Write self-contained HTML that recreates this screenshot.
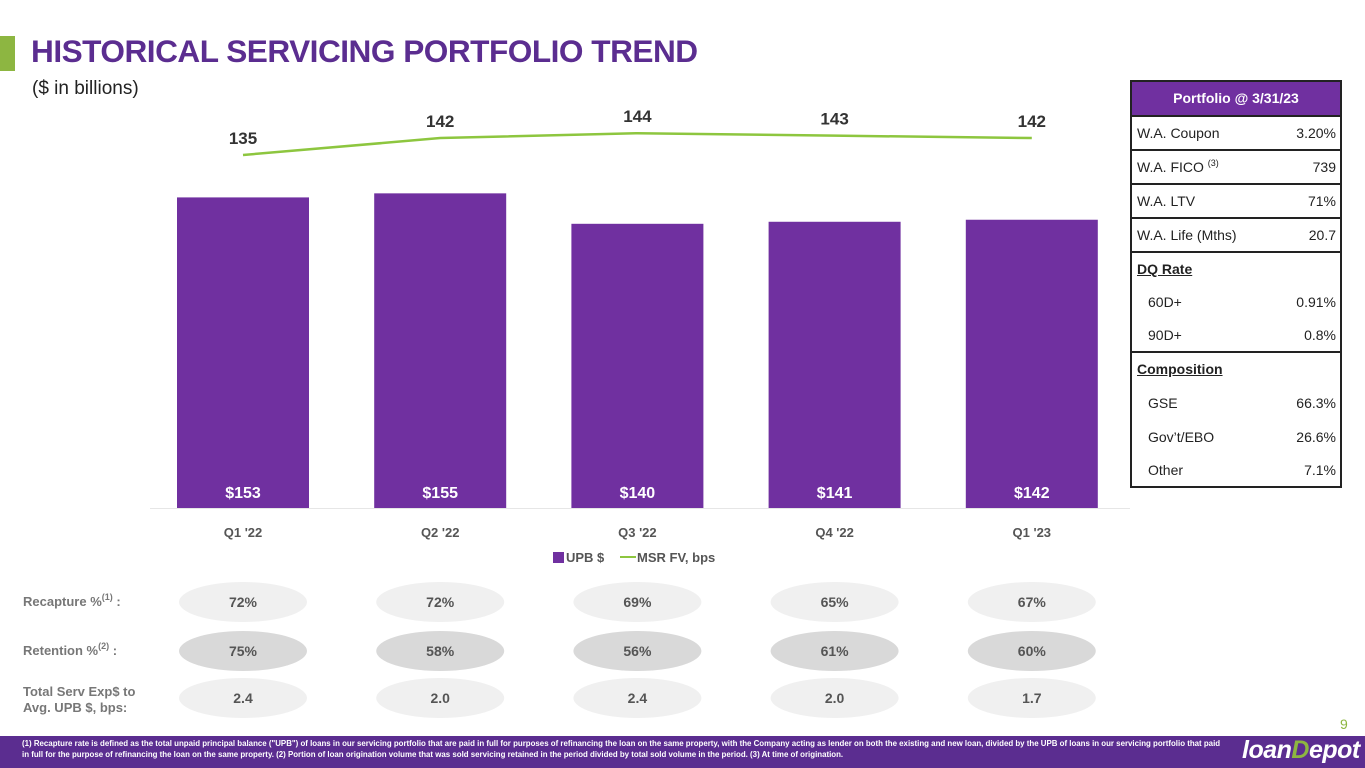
<!DOCTYPE html>
<html><head><meta charset="utf-8"><style>
body{margin:0;width:1365px;height:768px;overflow:hidden;background:#fff;font-family:"Liberation Sans",sans-serif;position:relative}
.abs{position:absolute}
sup{line-height:0;vertical-align:6px}
</style></head><body>
<div class="abs" style="left:0;top:36px;width:15px;height:35px;background:#8db641"></div>
<div class="abs" style="left:31px;top:33px;font-size:31.6px;font-weight:bold;color:#5b2d90;letter-spacing:-0.5px">HISTORICAL SERVICING PORTFOLIO TREND</div>
<div class="abs" style="left:32px;top:78px;font-size:19px;color:#222">($ in billions)</div>

<svg class="abs" style="left:0;top:0" width="1365" height="768" id="chart"></svg>

<div class="abs" style="left:1130px;top:80px;width:212px;border:2px solid #222;font-size:14px;color:#222;box-sizing:border-box">
<div style="background:#7030a0;color:#fff;font-weight:bold;text-align:center;height:33px;line-height:33px;border-bottom:2px solid #222">Portfolio @ 3/31/23</div>
<div style="display:flex;justify-content:space-between;padding:0 4px 0 5px;height:32px;line-height:32px;border-bottom:2px solid #222"><span>W.A. Coupon</span><span>3.20%</span></div>
<div style="display:flex;justify-content:space-between;padding:0 4px 0 5px;height:32px;line-height:32px;border-bottom:2px solid #222"><span>W.A. FICO <sup style="font-size:9px">(3)</sup></span><span>739</span></div>
<div style="display:flex;justify-content:space-between;padding:0 4px 0 5px;height:32px;line-height:32px;border-bottom:2px solid #222"><span>W.A. LTV</span><span>71%</span></div>
<div style="display:flex;justify-content:space-between;padding:0 4px 0 5px;height:32px;line-height:32px;border-bottom:2px solid #222"><span>W.A. Life (Mths)</span><span>20.7</span></div>
<div style="height:98px;border-bottom:2px solid #222">
<div style="padding:0 5px;height:33px;line-height:33px;font-weight:bold;text-decoration:underline">DQ Rate</div>
<div style="display:flex;justify-content:space-between;padding:0 4px 0 16px;height:33px;line-height:33px"><span>60D+</span><span>0.91%</span></div>
<div style="display:flex;justify-content:space-between;padding:0 4px 0 16px;height:32px;line-height:32px"><span>90D+</span><span>0.8%</span></div>
</div>
<div style="height:133px">
<div style="padding:0 5px;height:33px;line-height:33px;font-weight:bold;text-decoration:underline">Composition</div>
<div style="display:flex;justify-content:space-between;padding:0 4px 0 16px;height:34px;line-height:34px"><span>GSE</span><span>66.3%</span></div>
<div style="display:flex;justify-content:space-between;padding:0 4px 0 16px;height:34px;line-height:34px"><span>Gov’t/EBO</span><span>26.6%</span></div>
<div style="display:flex;justify-content:space-between;padding:0 4px 0 16px;height:32px;line-height:32px"><span>Other</span><span>7.1%</span></div>
</div>
</div>

<div class="abs" style="left:23px;top:594px;font-size:13px;font-weight:bold;color:#777">Recapture %<sup style="font-size:9px">(1)</sup> :</div>
<div class="abs" style="left:23px;top:643px;font-size:13px;font-weight:bold;color:#777">Retention %<sup style="font-size:9px">(2)</sup> :</div>
<div class="abs" style="left:23px;top:684px;font-size:13px;font-weight:bold;color:#777;line-height:16px">Total Serv Exp$ to<br>Avg. UPB $, bps:</div>

<div class="abs" style="left:1340px;top:716px;font-size:14px;color:#8db641">9</div>
<div class="abs" style="left:0;top:736px;width:1365px;height:32px;background:#5b2d90"></div>
<div class="abs" style="left:22px;top:738px;width:1205px;font-size:7.9px;line-height:11px;color:#fff;font-weight:bold">(1) Recapture rate is defined as the total unpaid principal balance ("UPB") of loans in our servicing portfolio that are paid in full for purposes of refinancing the loan on the same property, with the Company acting as lender on both the existing and new loan, divided by the UPB of loans in our servicing portfolio that paid in full for the purpose of refinancing the loan on the same property. (2) Portion of loan origination volume that was sold servicing retained in the period divided by total sold volume in the period. (3) At time of origination.</div>
<div class="abs" style="left:1242px;top:736px;font-size:25px;font-weight:bold;font-style:italic;color:#fff;letter-spacing:-0.5px">loan<span style="color:#8db641">D</span>epot</div>

<script>
const categories=["Q1 '22","Q2 '22","Q3 '22","Q4 '22","Q1 '23"];
const upb=[153,155,140,141,142];
const upbLabels=["$153","$155","$140","$141","$142"];
const msr=[135,142,144,143,142];
const recapture=["72%","72%","69%","65%","67%"];
const retention=["75%","58%","56%","61%","60%"];
const servExp=["2.4","2.0","2.4","2.0","1.7"];
const NS="http://www.w3.org/2000/svg";
const svg=document.getElementById('chart');
function xc(i){return 243+i*197.2;}
function yBar(v){return 508-v*2.03;}
function yLine(v){return 155-(v-135)*2.42;}
function mk(t,a,txt){const e=document.createElementNS(NS,t);for(const k in a)e.setAttribute(k,a[k]);if(txt!==undefined)e.textContent=txt;svg.appendChild(e);return e;}
let base=mk('line',{x1:150,x2:1130,y1:508.5,y2:508.5,stroke:'#e6e6e6','stroke-width':1});


upb.forEach((v,i)=>{
 const r=mk('rect',{x:xc(i)-66,y:yBar(v),width:132,height:508-yBar(v),fill:'#7030a0'});
 
 
 const t=mk('text',{x:xc(i),y:498,'text-anchor':'middle','font-size':16,'font-weight':'bold',fill:'#fff','font-family':'Liberation Sans'},upbLabels[i]);
 
 
 const c=mk('text',{x:xc(i),y:537,'text-anchor':'middle','font-size':13,'font-weight':'bold',fill:'#555','font-family':'Liberation Sans'},categories[i]);
 
 
});
const pts=msr.map((v,i)=>xc(i)+','+yLine(v)).join(' ');
const pl=mk('polyline',{points:pts,fill:'none',stroke:'#8dc63f','stroke-width':2.5});


msr.forEach((v,i)=>{
 const t=mk('text',{x:xc(i),y:yLine(v)-11,'text-anchor':'middle','font-size':17,'font-weight':'bold',fill:'#333','font-family':'Liberation Sans'},String(v));
 
 
});
let lr=mk('rect',{x:553,y:552,width:11,height:11,fill:'#7030a0'});


let lt=mk('text',{x:566,y:562,'font-size':13,'font-weight':'bold',fill:'#555','font-family':'Liberation Sans'},'UPB $');


let ll=mk('line',{x1:620,x2:636,y1:557,y2:557,stroke:'#8dc63f','stroke-width':2});


let lt2=mk('text',{x:637,y:562,'font-size':13,'font-weight':'bold',fill:'#555','font-family':'Liberation Sans'},'MSR FV, bps');


const rows=[[recapture,602,'#f0f0f0','recapture'],[retention,651,'#d9d9d9','retention'],[servExp,698,'#f0f0f0','serv-exp']];
rows.forEach(([arr,y,col,nm])=>{
 arr.forEach((s,i)=>{
  const e=mk('ellipse',{cx:xc(i),cy:y,rx:64,ry:20,fill:col});
  
  
  const t=mk('text',{x:xc(i),y:y+5,'text-anchor':'middle','font-size':14,'font-weight':'bold',fill:'#555','font-family':'Liberation Sans'},s);
  
  
 });
});
</script>
</body></html>
